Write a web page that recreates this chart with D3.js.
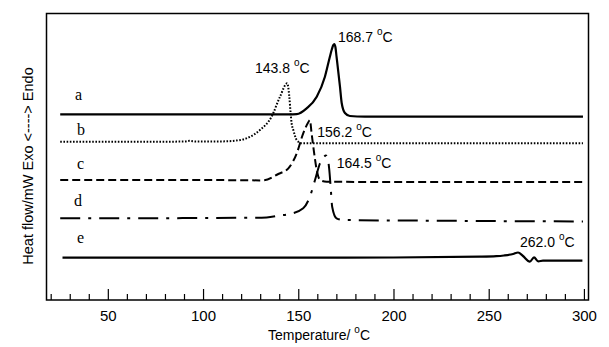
<!DOCTYPE html>
<html>
<head>
<meta charset="utf-8">
<script src="https://cdn.jsdelivr.net/npm/d3@7"></script>
<style>
  html, body { margin: 0; padding: 0; background: #fff; }
  svg { display: block; }
</style>
</head>
<body>
<svg id="chart" width="609" height="347"></svg>
<script>
// ---- data (temperature in °C, heat flow in arbitrary offset units) ----
const curveNames = ["a", "b", "c", "d", "e"];
const peakLabels = ["168.7", "143.8", "156.2", "164.5", "262.0"];
const xTickMajor = [50, 100, 150, 200, 250, 300];
const xTickMinor = [20, 30, 40, 60, 70, 80, 90, 110, 120, 130, 140, 160, 170, 180, 190, 210, 220, 230, 240, 260, 270, 280, 290];

const tempA = [25, 60, 100, 130, 145, 149.2, 154.4, 159.7, 164, 166.6, 167.6, 168.4, 168.9, 169.5, 170.1, 171.9, 172.8, 174.5, 177.1, 185, 203.4, 250, 299.5];
const flowA = [185.6, 185.6, 185.6, 185.7, 185.7, 185.9, 191.7, 203.3, 223.3, 243.3, 250.5, 255, 256, 253, 243.3, 213.3, 197, 187, 184, 183.4, 183.3, 183.3, 183.3];

const tempB = [25, 60, 90, 93, 96, 110, 119.6, 124.7, 129.9, 136.0, 140.4, 144.2, 145.3, 146.0, 146.5, 147.4, 149.2, 151.8, 170, 230, 299.5];
const flowB = [158.3, 158.3, 158.4, 159.2, 158.5, 158.6, 160, 163.3, 170, 183.3, 203.3, 216.7, 203.3, 186.7, 177, 170, 160, 156.7, 156.7, 156.7, 156.7];

const tempC = [25, 60, 100, 131.6, 139.5, 144.8, 149.2, 152.6, 155.2, 156.1, 157.0, 157.9, 159.7, 161.4, 164.9, 200, 299.5];
const flowC = [120, 120, 120, 119.6, 126, 131.7, 146.7, 166.7, 177.5, 180, 166.7, 153.3, 130, 120, 118.3, 118, 118];

const tempD = [25, 60, 100, 125, 133.4, 140.4, 145.6, 152.6, 156.1, 158.8, 161.4, 163.4, 164.5, 165.6, 166.3, 167.0, 167.8, 170.1, 173.6, 220, 299.5];
const flowD = [81.7, 81.7, 82, 82.3, 82.6, 84.5, 86, 91.7, 103.3, 120, 136.7, 143, 144.5, 140, 130, 113.3, 93.3, 81.7, 80, 79.3, 78.5];

const tempE = [26.2, 80, 150, 200, 245.4, 254, 258, 262.8, 265.4, 268, 271.6, 273.8, 276, 278.5, 285, 299.2];
const flowE = [42.3, 42.3, 42.4, 42.5, 43.3, 43.8, 44.5, 46, 47.5, 44, 38.4, 42.6, 38.6, 39.3, 39.3, 39.3];

const seriesTemps = [tempA, tempB, tempC, tempD, tempE];
const seriesFlows = [flowA, flowB, flowC, flowD, flowE];

// ---- layout ----
const svg = d3.select("#chart");
const L = 46.5, R = 588.5, T = 13.5, B = 300;
const x = d3.scaleLinear().domain([17.8, 302.4]).range([L, R]);
const y = d3.scaleLinear().domain([0, 286.5]).range([B, T]);

const sans = "'Liberation Sans', Arial, sans-serif";
const serif = "'Liberation Serif', 'Times New Roman', serif";

// frame
svg.append("rect").attr("x", L).attr("y", T).attr("width", R - L).attr("height", B - T)
  .attr("fill", "none").attr("stroke", "#000").attr("stroke-width", 1.5);

// minor ticks
const minorAxis = d3.axisBottom(x).tickValues(xTickMinor).tickSize(-6).tickFormat("");
const gMin = svg.append("g").attr("transform", `translate(0,${B})`).call(minorAxis);
gMin.select(".domain").remove();
gMin.selectAll("line").attr("stroke", "#000").attr("stroke-width", 1.2);

// major ticks + labels
const majorAxis = d3.axisBottom(x).tickValues(xTickMajor).tickSize(-11).tickPadding(10).tickFormat(d3.format("d"));
const gMaj = svg.append("g").attr("transform", `translate(0,${B})`).call(majorAxis);
gMaj.select(".domain").remove();
gMaj.selectAll("line").attr("stroke", "#000").attr("stroke-width", 1.2);
gMaj.selectAll("text").attr("font-family", sans).attr("font-size", 15).attr("fill", "#000");

// x title
const xt = svg.append("text").attr("x", 319).attr("y", 339.5).attr("text-anchor", "middle")
  .attr("font-family", sans).attr("font-size", 14).attr("fill", "#000");
xt.append("tspan").text("Temperature/ ");
xt.append("tspan").attr("dy", -7).attr("font-size", 10).text("o");
xt.append("tspan").attr("dy", 7).text("C");

// y title
svg.append("text").attr("transform", "translate(33,166) rotate(-90)").attr("text-anchor", "middle")
  .attr("font-family", sans).attr("font-size", 14.5).attr("fill", "#000")
  .text("Heat flow/mW Exo <----> Endo");

// curves
const styles = [
  { dash: null, w: 2.2 },
  { dash: "1.6,1.6", w: 2 },
  { dash: "8,4", w: 2 },
  { dash: "20,8,3,8", w: 2 },
  { dash: null, w: 2.2 }
];
const line = d3.line().x(d => x(d[0])).y(d => y(d[1])).curve(d3.curveMonotoneX);
seriesTemps.forEach((ts, i) => {
  const pts = ts.map((t, j) => [t, seriesFlows[i][j]]);
  svg.append("path").datum(pts).attr("d", line)
    .attr("fill", "none").attr("stroke", "#000")
    .attr("stroke-width", styles[i].w)
    .attr("stroke-dasharray", styles[i].dash)
    .attr("stroke-linejoin", "round");
});

// curve letters
const letterPos = [[75, 100], [77, 135], [77, 169], [74, 206], [77, 243]];
curveNames.forEach((n, i) => {
  svg.append("text").attr("x", letterPos[i][0]).attr("y", letterPos[i][1])
    .attr("font-family", serif).attr("font-size", 16).attr("fill", "#000").text(n);
});

// peak labels
const peakPos = [[338, 41.7], [255, 72.7], [317.3, 137.3], [336.7, 167.7], [520, 246.7]];
peakLabels.forEach((lab, i) => {
  const t = svg.append("text").attr("x", peakPos[i][0]).attr("y", peakPos[i][1])
    .attr("font-family", sans).attr("font-size", 14).attr("fill", "#000");
  t.append("tspan").text(lab + " ");
  t.append("tspan").attr("dy", -7).attr("font-size", 10).text("o");
  t.append("tspan").attr("dy", 7).text("C");
});
</script>
</body>
</html>
